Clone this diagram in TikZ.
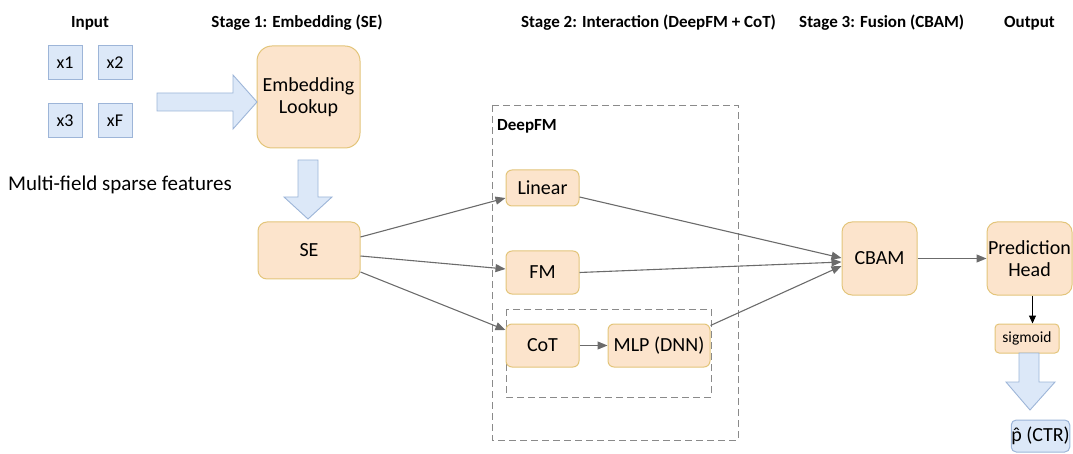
\documentclass[tikz,border=0pt]{standalone}
\usepackage{fontspec}
\setmainfont{Carlito}
\usetikzlibrary{arrows.meta,calc}

\definecolor{peachfill}{HTML}{FCE4CC}
\definecolor{peachline}{HTML}{E3C57A}
\definecolor{bluefill}{HTML}{DCE8F8}
\definecolor{blueline}{HTML}{9DB5D8}
\definecolor{edgegray}{HTML}{6B6B6B}
\definecolor{dashgray}{HTML}{8A8A8A}

\newcommand{\phat}{\ooalign{\hfil\raisebox{0.02em}{\symbol{"02C6}}\hfil\cr p\cr}}

\tikzset{
  peachbox/.style={draw=peachline, fill=peachfill, line width=1pt,
    rounded corners=6pt, align=center, inner sep=0pt,
    font=\fontsize{20}{22}\selectfont},
  bluebox/.style={draw=blueline, fill=bluefill, line width=1pt,
    inner sep=0pt, font=\fontsize{18}{20}\selectfont},
  header/.style={font=\fontsize{17}{19}\selectfont\bfseries, inner sep=0pt},
  flow/.style={draw=edgegray, line width=1.1pt,
    -{Triangle[length=10pt,width=8pt]}},
  groupbox/.style={draw=dashgray, line width=0.9pt, dash pattern=on 7pt off 4pt},
  fatarrow/.style={fill=bluefill, draw=blueline, line width=0.9pt},
}

\begin{document}
\begin{tikzpicture}[x=1pt, y=-1pt]
\useasboundingbox (0,0) rectangle (1073,454);

% column headers
\node[header] (hin) at (90,23) {Input};
\node[header] (hs1) at (297,23) {Stage 1: Embedding (SE)};
\node[header, anchor=west] (hs2) at (521,23) {Stage 2: Interaction (DeepFM + CoT)};
\node[header, anchor=west] (hs3) at (799,23) {Stage 3: Fusion (CBAM)};
\node[header, anchor=west] (hout) at (1004,23) {Output};

% sparse input fields
\node[bluebox, minimum width=34pt, minimum height=34pt] (x1) at (65,63) {x1};
\node[bluebox, minimum width=34pt, minimum height=34pt] (x2) at (115,63) {x2};
\node[bluebox, minimum width=34pt, minimum height=34pt] (x3) at (65,121) {x3};
\node[bluebox, minimum width=34pt, minimum height=34pt] (xf) at (115,121) {xF};
\node[anchor=west, inner sep=0pt, font=\fontsize{21}{23}\selectfont] (mf) at (8,185) {Multi-field sparse features};

% stage 1
\node[peachbox, rounded corners=15pt, minimum width=103pt, minimum height=102pt] (emb) at (308.5,97) {Embedding\\Lookup};
\node[peachbox, rounded corners=9pt, minimum width=102pt, minimum height=57pt] (se) at (309,250.5) {SE};

% wide arrow: inputs -> embedding lookup
\draw[fatarrow] (157,93) -- (233,93) -- (233,75) -- (257,102) -- (233,129) -- (233,111) -- (157,111) -- cycle;
% wide arrow: embedding lookup -> SE
\draw[fatarrow] (298,160) -- (318,160) -- (318,197) -- (332,197) -- (308,219) -- (284,197) -- (298,197) -- cycle;

% stage 2: DeepFM group
\draw[groupbox] (492,105) rectangle (738,440);
\node[header, anchor=west] (dfm) at (497,126) {DeepFM};
\draw[groupbox] (506,309) rectangle (711,397);

\node[peachbox, minimum width=73pt, minimum height=36pt] (lin) at (542.5,188) {Linear};
\node[peachbox, minimum width=73pt, minimum height=43pt] (fm) at (542.5,272.5) {FM};
\node[peachbox, minimum width=73pt, minimum height=43pt] (cot) at (542.5,345.5) {CoT};
\node[peachbox, minimum width=102pt, minimum height=43pt] (mlp) at (659,345.5) {MLP (DNN)};

% stage 3 and output
\node[peachbox, rounded corners=10pt, minimum width=75pt, minimum height=73pt] (cbam) at (879.5,258.5) {CBAM};
\node[peachbox, rounded corners=10pt, minimum width=85pt, minimum height=73pt] (ph) at (1029.5,258.5) {Prediction\\Head};
\node[peachbox, rounded corners=4pt, minimum width=64pt, minimum height=29pt,
      font=\fontsize{15.5}{17}\selectfont] (sig) at (1027,338.5) {sigmoid};
\node[bluebox, rounded corners=5pt, minimum width=55pt, minimum height=32pt,
      font=\fontsize{20}{22}\selectfont] (ctr) at (1040.5,436) {\phat{} (CTR)};

% wide arrow: sigmoid -> p
\draw[fatarrow] (1019,353) -- (1039,353) -- (1039,382) -- (1055,382) -- (1030,410) -- (1006,382) -- (1019,382) -- cycle;

% connectors
\draw[flow] ([yshift=13.5pt]se.east) -- ([yshift=-10pt]lin.west);
\draw[flow] ([yshift=-5.5pt]se.east) -- ([yshift=3.5pt]fm.west);
\draw[flow] ([yshift=-21.5pt]se.east) -- ([yshift=15.5pt]cot.west);
\draw[flow] (cot) -- (mlp);
\draw[flow] ([yshift=-9pt]lin.east) -- ([yshift=0.5pt]cbam.west);
\draw[flow] (fm.east) -- ([yshift=-3.5pt]cbam.west);
\draw[flow] ([yshift=-2pt]mlp.north east) -- ([yshift=-7.5pt]cbam.west);
\draw[flow] (cbam) -- (ph);
\draw[line width=1.1pt, -{Triangle[length=8pt,width=7pt]}] ([xshift=3pt]ph.south) -- ([xshift=3pt]ph.south |- sig.north);
\end{tikzpicture}
\end{document}
